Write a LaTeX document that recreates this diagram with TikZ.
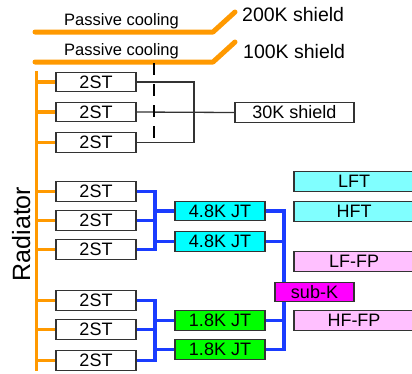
\documentclass[tikz,border=0pt]{standalone}
\usepackage{fontspec}
\setmainfont{Liberation Sans}
\definecolor{orng}{HTML}{FF9900}
\definecolor{blu}{HTML}{1A3CFF}
\definecolor{cyn}{HTML}{00FFFF}
\definecolor{lcyn}{HTML}{80FFFF}
\definecolor{grn}{HTML}{00FF00}
\definecolor{mgn}{HTML}{FF00FF}
\definecolor{lpink}{HTML}{FFC0FF}
\definecolor{bord}{HTML}{333333}
\begin{document}
\begin{tikzpicture}[x=1pt,y=-1pt,
  bx/.style={draw=bord,line width=1.2pt,inner sep=0pt,minimum height=19.5pt,font=\fontsize{18}{18}\selectfont},
  st/.style={bx,minimum width=80pt},
  jt/.style={bx,minimum width=90pt},
  rb/.style={bx,minimum width=120pt},
  orl/.style={draw=orng,line width=5pt,line cap=round,line join=round},
  rad/.style={draw=orng,line width=3.5pt},
  bl/.style={draw=blu,line width=3.5pt},
  blk/.style={draw=bord,line width=1.3pt}]
\useasboundingbox (0,0) rectangle (412,373);
% shields
\coordinate (a1) at (35,32); \coordinate (a2) at (213,32); \coordinate (a3) at (235,12);
\coordinate (b1) at (35,62); \coordinate (b2) at (213,62); \coordinate (b3) at (235,42);
\draw[orl] (a1) -- (a2) -- (a3);
\draw[orl] (b1) -- (b2) -- (b3);
\node[anchor=base,font=\fontsize{16.5}{16.5}\selectfont] (pc1) at (121.5,25.5) {Passive cooling};
\node[anchor=base,font=\fontsize{16.5}{16.5}\selectfont] (pc2) at (121.5,55.5) {Passive cooling};
\node[anchor=base west,inner sep=0pt,font=\fontsize{19.5}{19.5}\selectfont] (s200) at (242,21.5) {200K shield};
\node[anchor=base west,inner sep=0pt,font=\fontsize{19.5}{19.5}\selectfont] (s100) at (243,58.5) {100K shield};
% radiator
\coordinate (rt) at (36.5,71); \coordinate (rb) at (36.5,371);
\draw[rad] (rt) -- (rb);
\node[rotate=90,anchor=base,inner sep=0pt,font=\fontsize{25}{25}\selectfont] (radl) at (30,234) {Radiator};
% 2ST boxes
\foreach \i/\y in {1/82,2/112,3/142.5,4/191.5,5/220.5,6/249.5,7/300.5,8/329.5,9/360.5}{
  \node[st] (s\i) at (96,\y) {2ST};
  \draw[rad] (36.5,\y) -- (s\i.west);
}
% 30K
\node[bx,minimum width=119pt] (k30) at (294.5,112.5) {30K shield};
\coordinate (c1) at (194,82); \coordinate (c3) at (194,142.5);
\draw[blk] (s1.east) -- (c1) -- (c3) -- (s3.east);
\draw[blk] (s2.east) -- (k30.west);
\coordinate (d1) at (154,63); \coordinate (d2) at (154,142);
\draw[draw=black,line width=2.5pt,dash pattern=on 12pt off 9pt] (d1) -- (d2);
% JT boxes
\node[jt,fill=cyn] (j1) at (220,211) {4.8K JT};
\node[jt,fill=cyn] (j2) at (220,241.5) {4.8K JT};
\node[jt,fill=grn] (g1) at (220,320.5) {1.8K JT};
\node[jt,fill=grn] (g2) at (220,349.5) {1.8K JT};
% blue lines left
\coordinate (u1) at (155,191.5); \coordinate (u2) at (155,249.5);
\draw[bl] (s4.east) -- (u1) -- (u2) -- (s6.east);
\draw[bl] (s5.east) -- (155,220.5);
\draw[bl] (155,211) -- (j1.west);
\draw[bl] (155,241.5) -- (j2.west);
\coordinate (v1) at (155,300.5); \coordinate (v2) at (155,360.5);
\draw[bl] (s7.east) -- (v1) -- (v2) -- (s9.east);
\draw[bl] (s8.east) -- (155,329.5);
\draw[bl] (155,320.5) -- (g1.west);
\draw[bl] (155,349.5) -- (g2.west);
% blue lines right
\coordinate (w1) at (284,211); \coordinate (w2) at (284,349.5);
\draw[bl] (j1.east) -- (w1) -- (w2) -- (g2.east);
\draw[bl] (j2.east) -- (284,241.5);
\draw[bl] (g1.east) -- (284,320.5);
\node[bx,minimum width=79pt,fill=mgn] (subk) at (314.5,292) {sub-K};
% right boxes
\node[rb,fill=lcyn] (lft) at (354,181.5) {LFT};
\node[rb,fill=lcyn] (hft) at (354,211.5) {HFT};
\node[rb,fill=lpink] (lffp) at (354,261.5) {LF-FP};
\node[rb,fill=lpink] (hffp) at (354,320.5) {HF-FP};
\end{tikzpicture}
\end{document}
